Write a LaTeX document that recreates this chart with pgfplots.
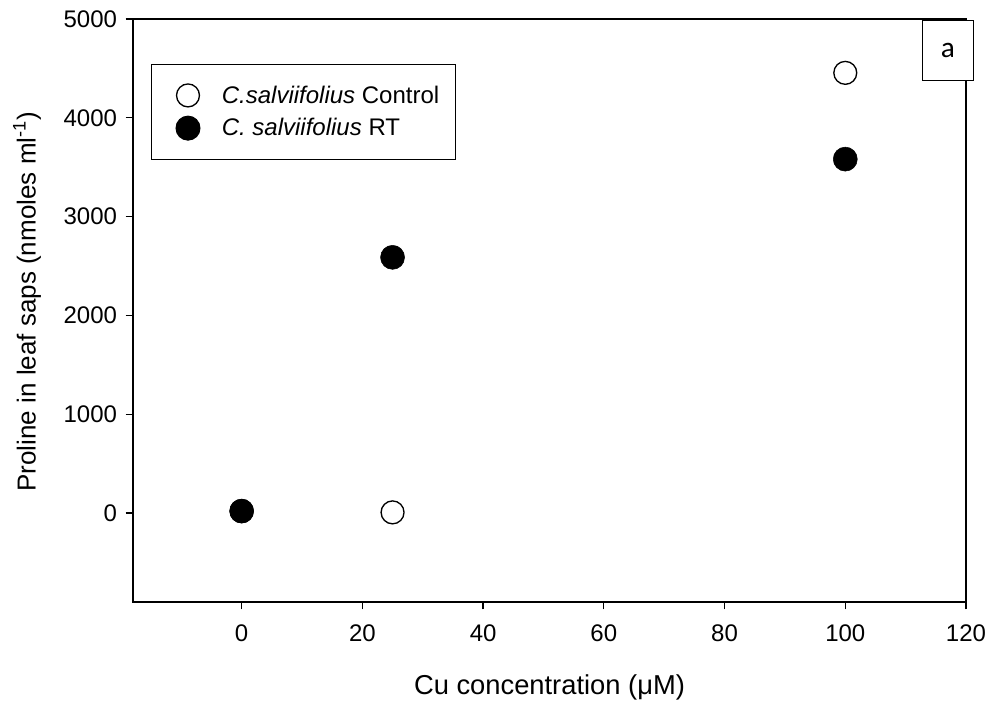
\documentclass[border=0pt]{standalone}
\usepackage{pgfplots}
\pgfplotsset{compat=1.18}
\usepackage{fontspec}
\setmainfont{Liberation Sans}
\newfontfamily\calibri{Carlito}
\begin{document}
\begin{tikzpicture}[x=1pt,y=1pt]
\useasboundingbox (-99.75,-78) rectangle (644.25,451.5);
\begin{axis}[
  at={(0,0)}, anchor=south west,
  scale only axis, width=624.75pt, height=437.25pt,
  xmin=-18, xmax=120, ymin=-900, ymax=5000,
  xtick={0,20,...,120}, ytick={0,1000,...,5000},
  xtick pos=bottom, ytick pos=left, tick align=outside,
  major tick length=5.5pt,
  axis line style={line width=1pt},
  every tick/.style={line width=1pt, black},
  scaled ticks=false,
  /pgf/number format/assume math mode=true,
  /pgf/number format/1000 sep={},
  tick label style={font=\fontsize{18}{21}\selectfont},
  xticklabel style={yshift=-8pt},
  yticklabel style={xshift=-3pt},
  xlabel={Cu concentration (μM)},
  ylabel={Proline in leaf saps (nmoles ml\textsuperscript{-1})},
  xlabel style={font=\fontsize{20.5}{24}\selectfont, at={(rel axis cs:0.5,0)}, anchor=center, yshift=-63.75pt},
  ylabel style={font=\fontsize{19.5}{23}\selectfont, at={(rel axis cs:0,0.515)}, anchor=center, yshift=79.5pt},
  clip=false,
  legend style={at={(rel axis cs:0.0216,0.923)}, anchor=north west,
    draw=black, line width=0.75pt, font=\fontsize{18}{21}\selectfont,
    inner xsep=10pt, inner ysep=14pt, row sep=6pt, cells={anchor=west}},
  legend image code/.code={\draw[#1] plot coordinates {(0pt,0pt)}; \path (-17pt,0pt) (23pt,0pt);},
]
\addplot[only marks, mark=*, mark size=8.6pt, mark options={fill=white, draw=black, line width=1pt}]
  coordinates {(0,20) (25,7) (100,4455)};
\addlegendentry{\textit{C.salviifolius} Control}
\addplot[only marks, mark=*, mark size=9pt, mark options={fill=black, draw=black}]
  coordinates {(0,20) (25,2588) (100,3582)};
\addlegendentry{\textit{C. salviifolius} RT}
\node[draw=black, fill=white, line width=0.75pt, anchor=north west,
  minimum width=38.25pt, minimum height=45pt, inner sep=0pt,
  font=\calibri\fontsize{22}{26}\selectfont]
  at (rel axis cs:0.947,0.998) {a};
\end{axis}
\end{tikzpicture}
\end{document}
